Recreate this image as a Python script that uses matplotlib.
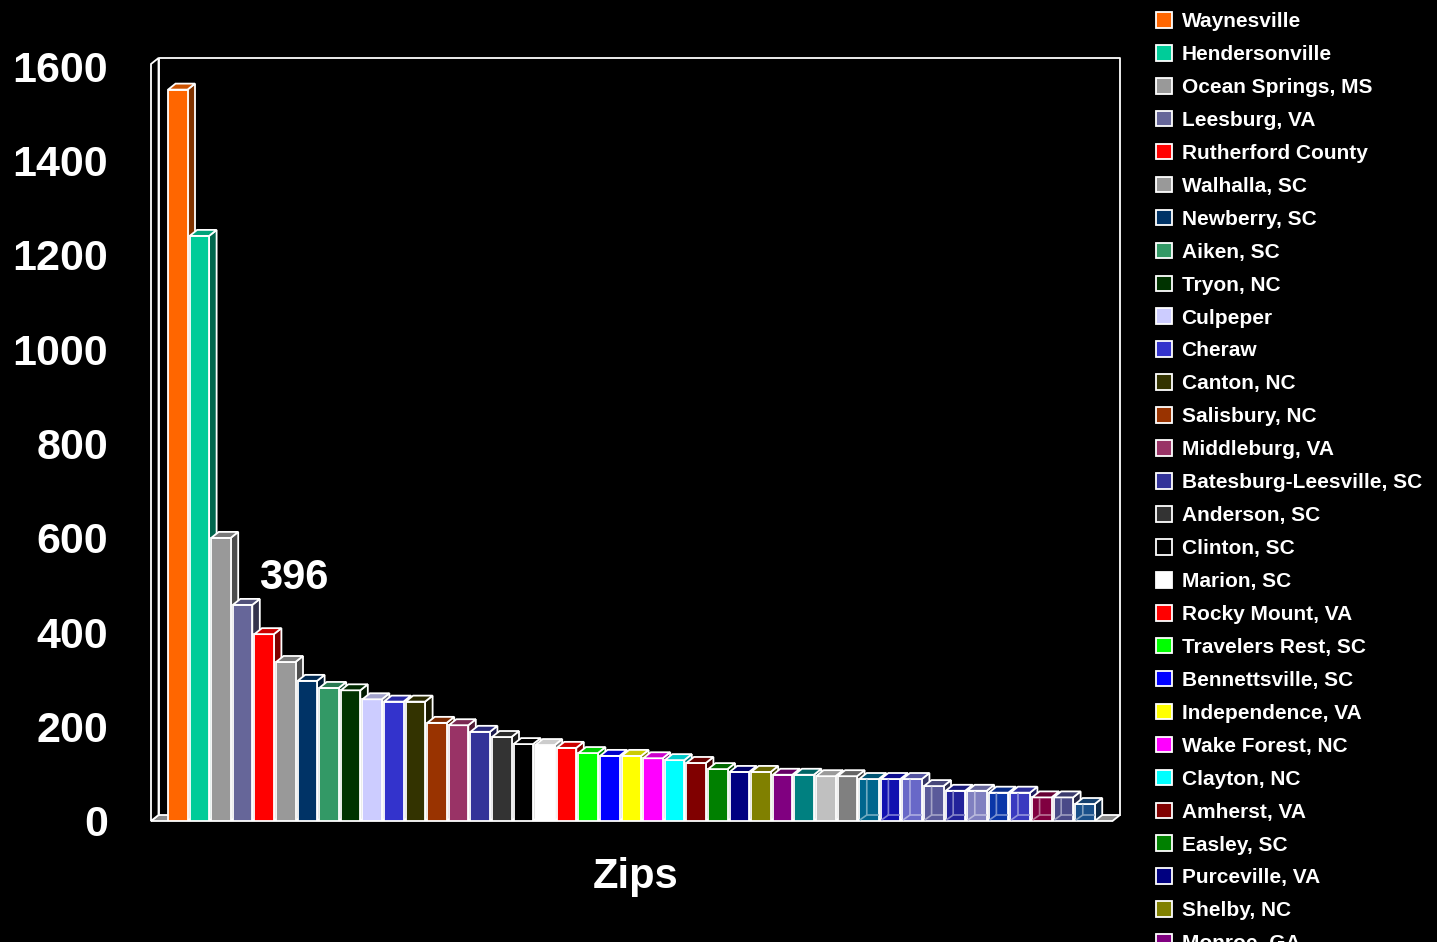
import matplotlib.pyplot as plt
import matplotlib.colors as mcolors
from matplotlib.patches import Polygon
import numpy as np

plt.rcParams['font.family'] = ['Liberation Sans', 'DejaVu Sans']
plt.rcParams['font.weight'] = 'bold'

# zip counts per town, largest first
names = ['Waynesville', 'Hendersonville', 'Ocean Springs, MS', 'Leesburg, VA',
         'Rutherford County', 'Walhalla, SC', 'Newberry, SC', 'Aiken, SC',
         'Tryon, NC', 'Culpeper', 'Cheraw', 'Canton, NC', 'Salisbury, NC',
         'Middleburg, VA', 'Batesburg-Leesville, SC', 'Anderson, SC',
         'Clinton, SC', 'Marion, SC', 'Rocky Mount, VA', 'Travelers Rest, SC',
         'Bennettsville, SC', 'Independence, VA', 'Wake Forest, NC',
         'Clayton, NC', 'Amherst, VA', 'Easley, SC', 'Purceville, VA',
         'Shelby, NC', 'Monroe, GA']
values = [1550, 1240, 600, 458, 396, 337, 297, 282, 277, 258, 253, 253, 208,
          203, 189, 178, 163, 161, 155, 144, 138, 138, 133, 129, 123, 110, 104,
          104, 98, 98, 95, 95, 89, 89, 89, 74, 64, 64, 60, 60, 50, 50, 36]
colors = ['#FF6600', '#00CC99', '#999999', '#666699', '#FF0000', '#999999',
          '#003366', '#339966', '#003300', '#CCCCFF', '#3333CC', '#333300',
          '#993300', '#993366', '#333399', '#333333', '#000000', '#FFFFFF',
          '#FF0000', '#00FF00', '#0000FF', '#FFFF00', '#FF00FF', '#00FFFF',
          '#800000', '#008000', '#000080', '#808000', '#800080', '#008080',
          '#C0C0C0', '#808080', '#00668E', '#1010B0', '#6868C8', '#5A5A9A',
          '#22229A', '#8080C0', '#0A36A8', '#3A3AC0', '#800040', '#4A4A88',
          '#1A508A']
first_glassy = 32
yticks = [0, 200, 400, 600, 800, 1000, 1200, 1400, 1600]
callout_idx = 4

W, H = 1437, 942
fig = plt.figure(figsize=(W / 100, H / 100), dpi=100, facecolor='black')
ax = fig.add_axes([151 / W, (H - 821) / H, (1120 - 151) / W, (821 - 58) / H])
ax.set_facecolor('black')

x0, x1 = -1.24, 43.62
ymax = 1617
ax.set_xlim(x0, x1)
ax.set_ylim(0, ymax)
for s in ax.spines.values():
    s.set_visible(False)

# depth offset of the 3d look, in data units
DX = 7.5 / 21.6
DY = 6 / 0.472
EC = 'white'
LW = 1.3


def shade(c, f):
    r, g, b = mcolors.to_rgb(c)
    return (r * f, g * f, b * f)


def lighten(c, f):
    r, g, b = mcolors.to_rgb(c)
    return (r + (1 - r) * f, g + (1 - g) * f, b + (1 - b) * f)


# walls and floor
ax.add_patch(Polygon([(x0, 0), (x1 - DX, 0), (x1, DY), (x0 + DX, DY)],
                     closed=True, fc='#8c8c8c', ec=EC, lw=LW, zorder=1, clip_on=False))
ax.add_patch(Polygon([(x0, 0), (x0, ymax - DY), (x0 + DX, ymax), (x0 + DX, DY)],
                     closed=True, fc='black', ec=EC, lw=LW, zorder=1, clip_on=False))
ax.plot([x0 + DX, x0 + DX, x1, x1], [DY, ymax, ymax, DY], color=EC, lw=LW,
        zorder=1, clip_on=False)

xs = np.arange(len(values))
bw = 0.9
bars = ax.bar(xs, values, width=bw, color=colors, edgecolor=EC, linewidth=LW,
              zorder=2)
for i, (b, v, c) in enumerate(zip(bars, values, colors)):
    z = 2 + i * 0.01
    b.set_zorder(z + 0.005)
    if i < len(names):
        b.set_label(names[i])
    l, r = xs[i] - bw / 2, xs[i] + bw / 2
    top = Polygon([(l, v), (r, v), (r + DX, v + DY), (l + DX, v + DY)],
                  closed=True, fc=shade(c, 0.8), ec=EC, lw=LW, zorder=z + 0.006)
    side = Polygon([(r, 0), (r + DX, DY), (r + DX, v + DY), (r, v)],
                   closed=True, fc=shade(c, 0.5), ec=EC, lw=LW, zorder=z)
    ax.add_patch(side)
    ax.add_patch(top)
    if i >= first_glassy:
        # see-through boxes: back edges show through the front face
        lc = lighten(c, 0.45)
        ax.plot([l + 0.05, l + DX, l + DX], [3, DY, v - 3], color=lc, lw=1.2,
                zorder=z + 0.007)
        ax.plot([l + DX, r - 0.05], [DY, DY], color=lc, lw=1.2, zorder=z + 0.007)

ax.text(xs[callout_idx] + 1.35, values[callout_idx] + 120, str(values[callout_idx]),
        color='white', fontsize=30, fontweight='bold', ha='center', va='center',
        zorder=5)

ax.set_xticks([])
ax.set_yticks(yticks)
ax.set_yticklabels([str(t) for t in yticks], color='white', fontsize=31,
                   fontweight='bold')
ax.tick_params(axis='y', length=0, pad=31)
ax.set_xlabel('Zips', color='white', fontsize=30, fontweight='bold', labelpad=26)

# the list runs past the bottom edge, as on the slide
fig.legend(handles=list(bars[:len(names)]), loc='upper left',
           bbox_to_anchor=(1156 / W, 1 - 12 / H), frameon=False, fontsize=15,
           labelcolor='white', handlelength=0.78, handleheight=0.78,
           handletextpad=0.45, labelspacing=0.665, borderpad=0, borderaxespad=0)

fig.savefig('out.png', dpi=100, facecolor='black')
